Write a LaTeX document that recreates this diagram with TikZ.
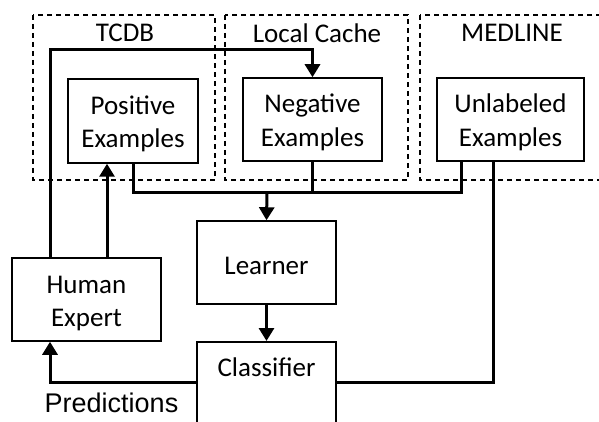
\documentclass[tikz,border=0pt]{standalone}
\usepackage{fontspec}
\setmainfont{Carlito}
\newfontfamily\arialf{Liberation Sans}
\usetikzlibrary{arrows.meta,calc}
\begin{document}
\begin{tikzpicture}[x=1pt,y=-1pt,
  group/.style={draw,line width=1.2pt,dash pattern=on 5pt off 4pt},
  grouptitle/.style={font=\fontsize{27}{34}\selectfont,inner sep=0pt},
  box/.style={draw,line width=1.5pt,align=center,font=\fontsize{27}{33.5}\selectfont,inner sep=0pt},
  twoline/.style={text height=61pt,text depth=7pt},
  oneline/.style={text height=23pt,text depth=0pt},
  conn/.style={line width=3pt},
  tip/.style={-{Triangle[width=15pt,length=13pt]}}]
\path[use as bounding box] (0,0) rectangle (599,422);
\clip (0,0) rectangle (599,422);
% groups
\draw[group] (33,15) rectangle (215,180);
\draw[group] (225,15) rectangle (408,180);
\draw[group] (420,15) rectangle (620,180);
\node[grouptitle] (tcdbt) at (125,33) {TCDB};
\node[grouptitle] (lct) at (317,33) {Local Cache};
\node[grouptitle] (medt) at (512,33) {MEDLINE};
% boxes
\node[box,twoline,minimum width=130pt,minimum height=84pt] (pos) at (133,121) {Positive\\Examples};
\node[box,twoline,minimum width=139pt,minimum height=83pt] (neg) at (312.5,119.5) {Negative\\Examples};
\node[box,twoline,minimum width=147pt,minimum height=83pt] (unl) at (510.5,119.5) {Unlabeled\\Examples};
\node[box,oneline,minimum width=139pt,minimum height=83pt] (learn) at (266.5,262.5) {Learner};
\node[box,twoline,minimum width=149pt,minimum height=83pt] (hum) at (86.5,299.5) {Human\\Expert};
\node[box,anchor=north,minimum width=139pt,text height=35pt,text depth=100pt] (cls) at (266.5,341) {Classifier};
\node[font=\arialf\fontsize{27}{30}\selectfont,inner sep=0pt,anchor=base] (predt) at (111.5,412) {Predictions};
% connectors
\coordinate (bus) at (267,192);
\draw[conn] (pos.south) |- ([xshift=-49.5pt]unl.south |- bus) -- ([xshift=-49.5pt]unl.south);
\draw[conn] (neg.south) -- (neg.south |- bus);
\draw[conn,tip] (bus) -- (learn.north);
\draw[conn,tip] (learn.south) -- (cls.north);
\draw[conn,tip] (cls.west |- 0,382) -| ([xshift=-36.5pt]hum.south);
\draw[conn,tip] ([xshift=-36.5pt]hum.north) |- ([yshift=28pt]neg.north) -- (neg.north);
\draw[conn,tip] ([xshift=20.5pt]hum.north) -- ([xshift=20.5pt]hum.north |- pos.south);
\draw[conn] (cls.east |- 0,382) -| ([xshift=-17.5pt]unl.south);
\end{tikzpicture}
\end{document}
